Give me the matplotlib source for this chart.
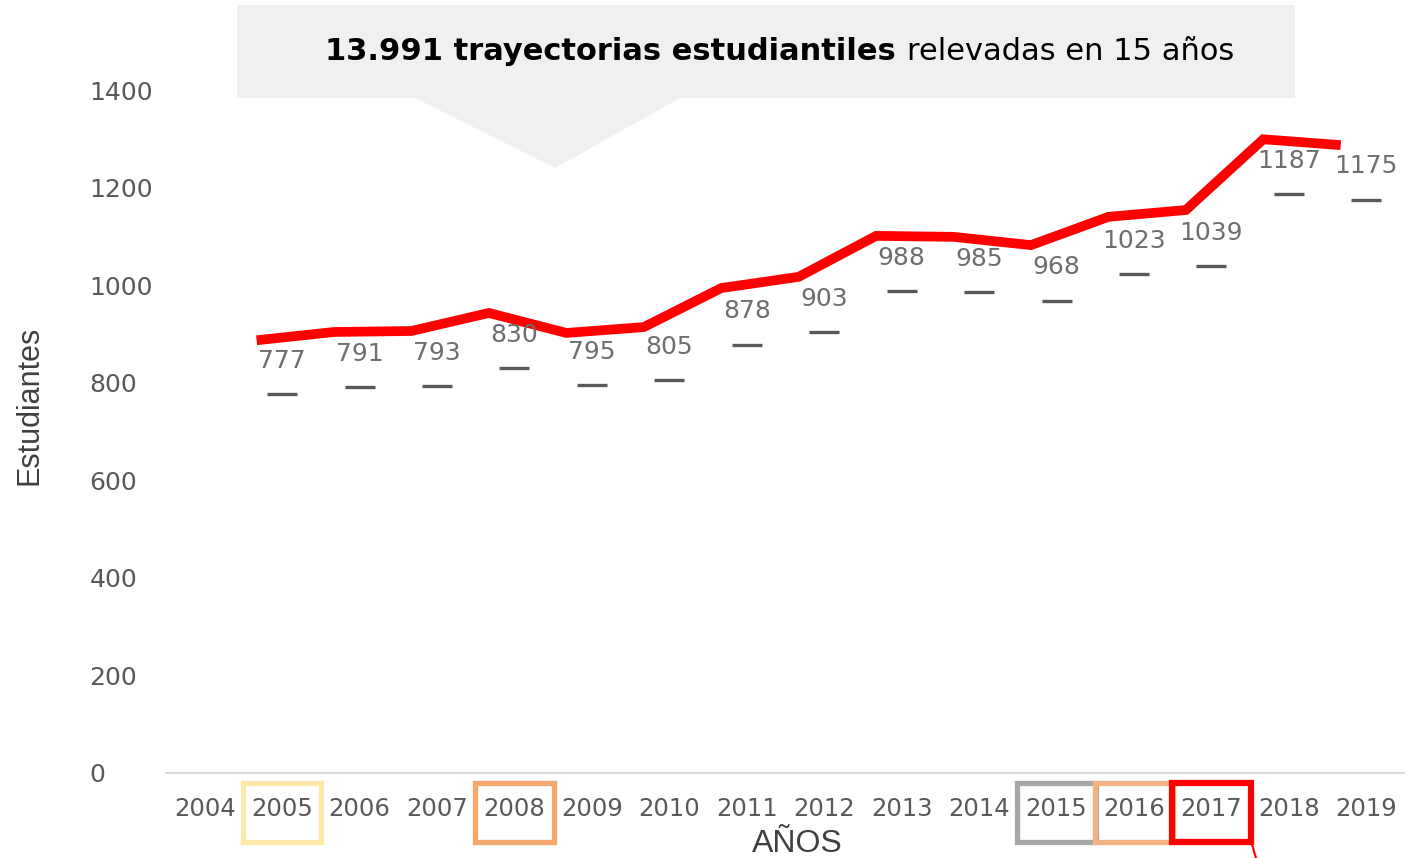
import numpy as np
import matplotlib.pyplot as plt
from matplotlib.patches import Rectangle, Polygon

# categories on the x axis
years = ['2004', '2005', '2006', '2007', '2008', '2009', '2010', '2011',
         '2012', '2013', '2014', '2015', '2016', '2017', '2018', '2019']

# students per year (value labels + dash markers)
data_years = ['2005', '2006', '2007', '2008', '2009', '2010', '2011', '2012',
              '2013', '2014', '2015', '2016', '2017', '2018', '2019']
students = [777, 791, 793, 830, 795, 805, 878, 903, 988, 985, 968, 1023, 1039, 1187, 1175]

# the red trend line as drawn over the chart
trend = [887, 904, 906, 943, 902, 914, 994, 1017, 1101, 1099, 1082, 1140, 1154, 1299, 1287]

# highlighted years and their frame colours
highlight_years = ['2005', '2008', '2015', '2016', '2017']
highlight_colors = ['#FFE9A8', '#F4A76F', '#A6A6A6', '#F4B183', '#FF0000']

W, H = 1405, 858
fig = plt.figure(figsize=(W / 100, H / 100), dpi=100)
ax = fig.add_axes([166 / W, (H - 773) / H, 1239 / W, 683 / H])

x = np.arange(len(years))
xd = np.array([years.index(y) for y in data_years])

# red line (overlay is shifted a bit left of the categories)
ax.plot(xd - 0.33, trend, color='#FF0000', lw=7, solid_joinstyle='miter',
        solid_capstyle='butt', zorder=3)

# dash markers at the real values
ax.plot(xd, students, ls='none', marker='_', ms=22, mew=2.4, color='#595959', zorder=4)

for xi, v in zip(xd, students):
    ax.annotate(str(v), (xi, v), xytext=(0, 24), textcoords='offset points',
                ha='center', va='center', fontsize=18, color='#6E6E6E',
                family='DejaVu Sans', zorder=5)

ax.set_xlim(-0.5, len(years) - 0.5)
ax.set_ylim(0, 1400)
ax.set_yticks(range(0, 1401, 200))
ax.set_xticks(x)
ax.set_xticklabels(years)

for s in ['top', 'right', 'left']:
    ax.spines[s].set_visible(False)
ax.spines['bottom'].set_color('#D9D9D9')
ax.spines['bottom'].set_linewidth(1.5)

ax.tick_params(axis='x', length=0, labelsize=17.5, labelcolor='#595959', pad=17)
ax.tick_params(axis='y', length=0, labelsize=18, labelcolor='#595959', pad=55)
for lab in ax.get_yticklabels():
    lab.set_horizontalalignment('left')
    lab.set_family('DejaVu Sans')
for lab in ax.get_xticklabels():
    lab.set_family('DejaVu Sans')

# axis titles
fig.text(30 / W, 1 - 405 / H, 'Estudiantes', rotation=90, ha='center', va='center',
         fontsize=22, color='#404040', family='Liberation Sans')
fig.text(797 / W, 1 - 844 / H, 'AÑOS', ha='center', va='center',
         fontsize=23, color='#404040', family='Liberation Sans')

# frames round the highlighted years
trans = ax.get_xaxis_transform()
for yr, c in zip(highlight_years, highlight_colors):
    i = years.index(yr)
    lw = 4.5 if c == '#FF0000' else 3.8
    ax.add_patch(Rectangle((i - 0.505, -0.101), 1.01, 0.087, transform=trans,
                           fill=False, edgecolor=c, lw=lw, clip_on=False, zorder=6))
i17 = years.index('2017')
ax.plot([i17 + 0.52, i17 + 0.59], [-0.103, -0.13], transform=trans, color='#FF0000',
        lw=1.5, clip_on=False)

# callout box with the headline
fig.patches.append(Rectangle((237 / W, 1 - 98 / H), 1058 / W, 93 / H,
                             transform=fig.transFigure, facecolor='#F0F0F0',
                             edgecolor='none', zorder=0))
fig.patches.append(Polygon([(415 / W, 1 - 98 / H), (680 / W, 1 - 98 / H), (555 / W, 1 - 168 / H)],
                           closed=True, transform=fig.transFigure, facecolor='#F0F0F0',
                           edgecolor='none', zorder=0))
fig.text(896 / W, 1 - 52 / H, '13.991 trayectorias estudiantiles', ha='right', va='center',
         fontsize=22, fontweight='bold', color='black', family='DejaVu Sans')
fig.text(907 / W, 1 - 52 / H, 'relevadas en 15 años', ha='left', va='center',
         fontsize=22, color='black', family='DejaVu Sans')

fig.savefig('out.png', dpi=100, facecolor='white')
